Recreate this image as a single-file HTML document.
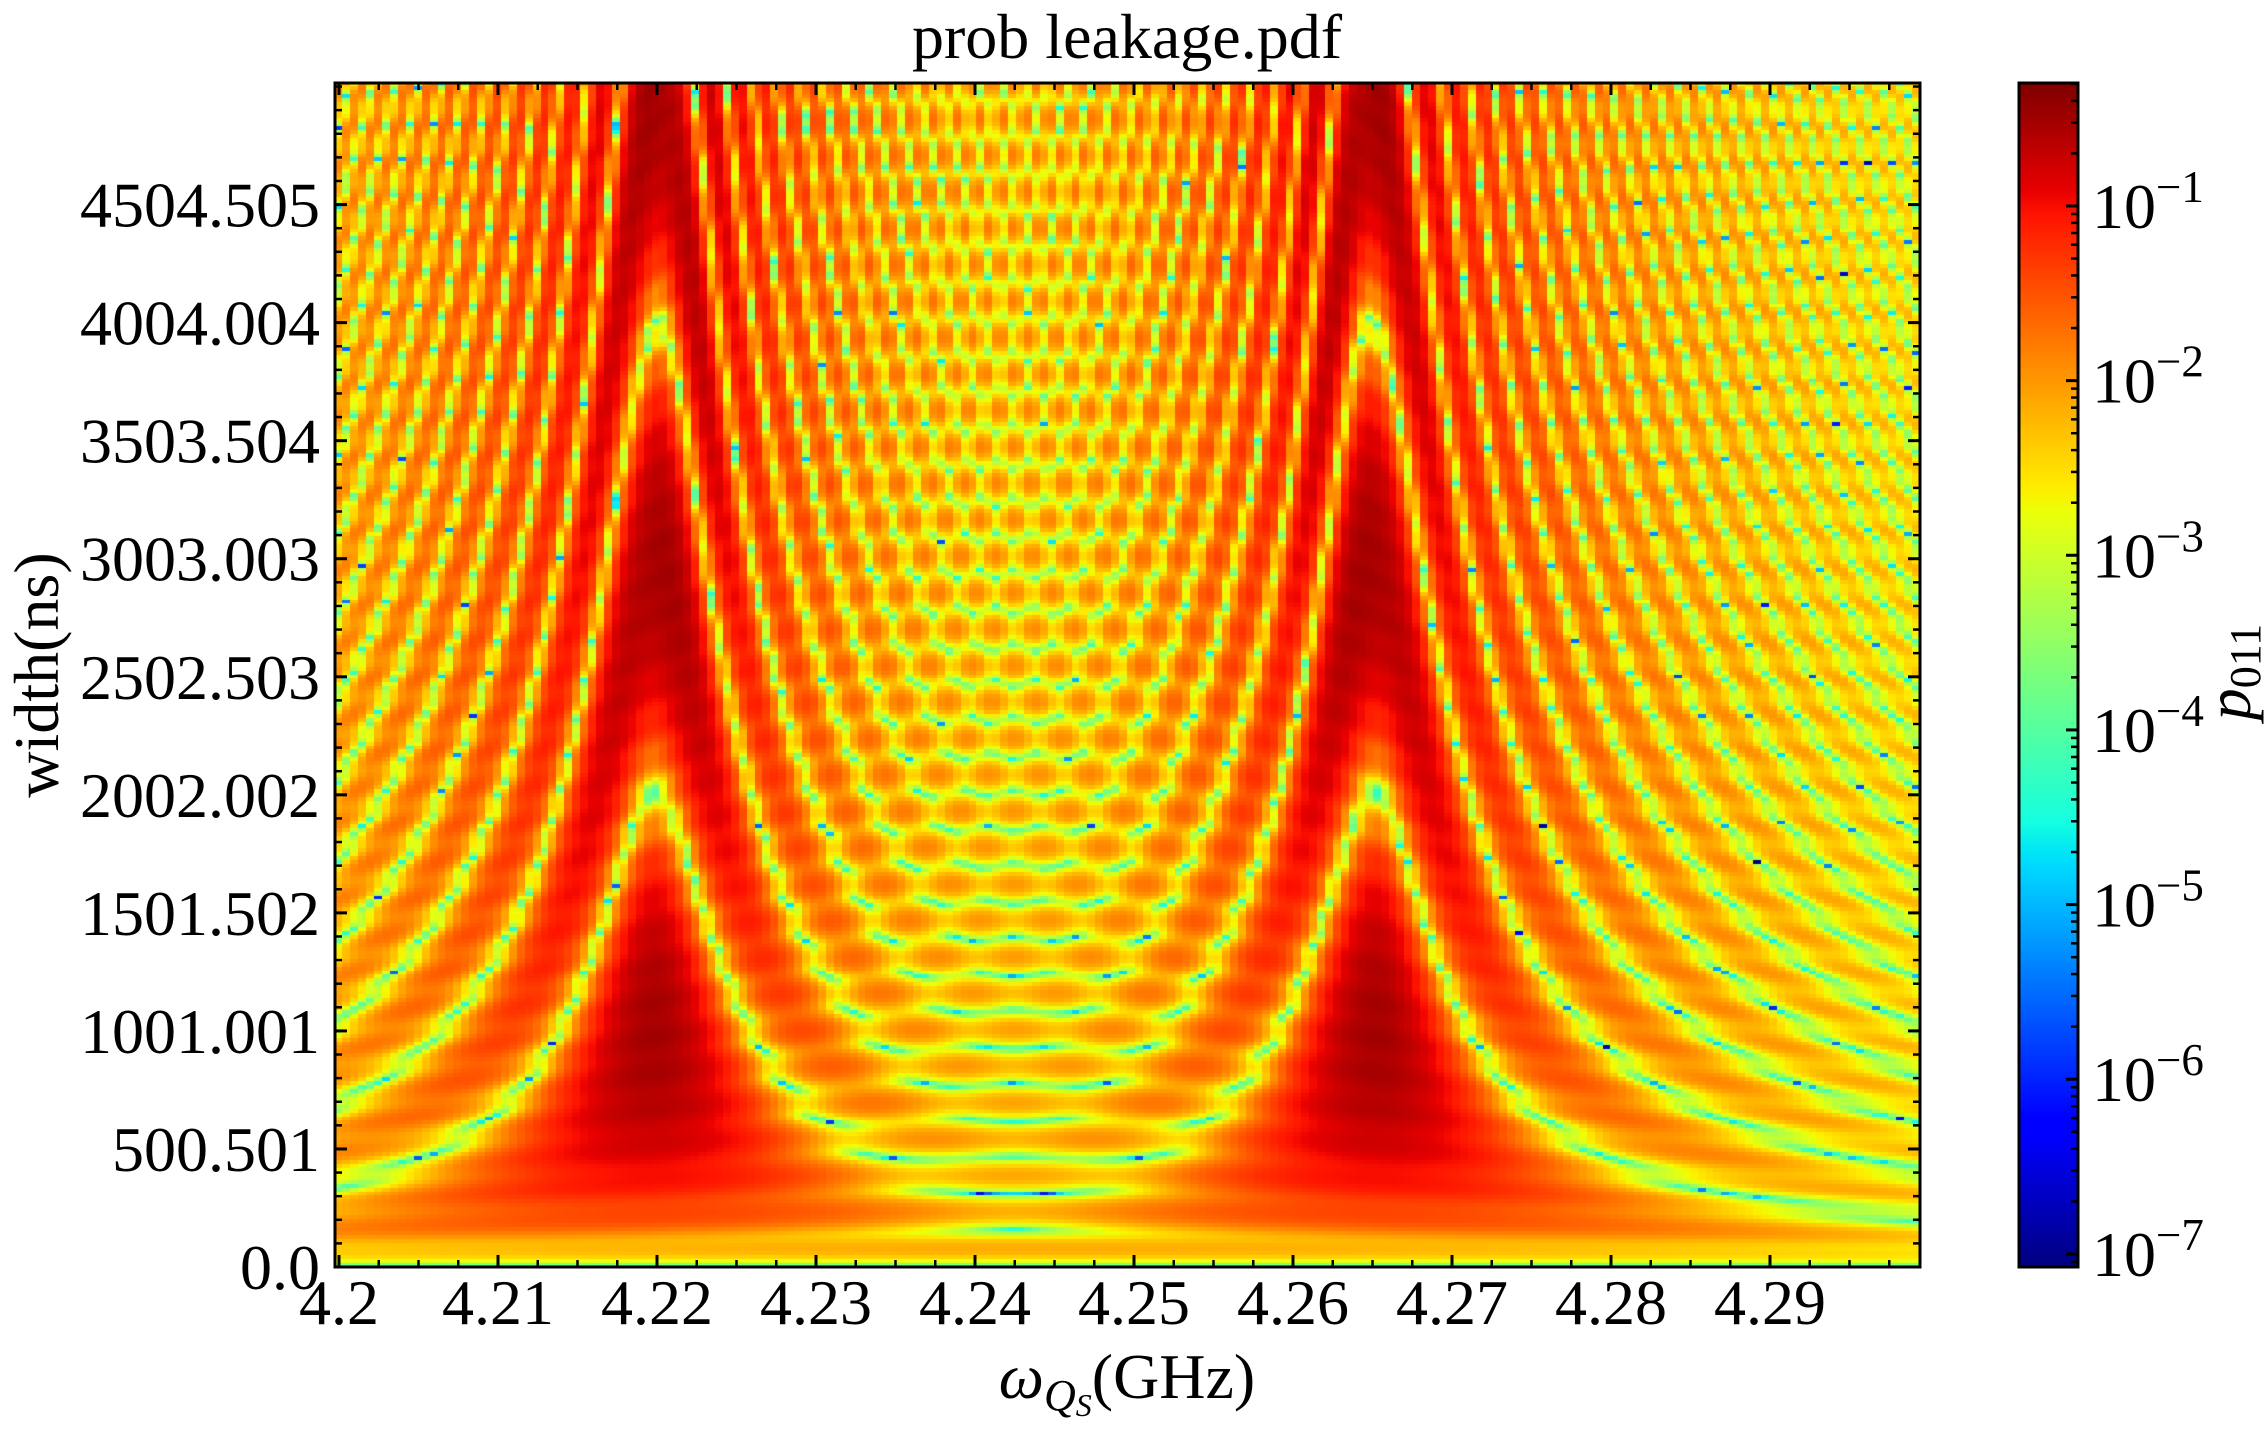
<!DOCTYPE html>
<html><head><meta charset="utf-8">
<style>
html,body{margin:0;padding:0;background:#fff;}
#wrap{position:relative;width:2266px;height:1430px;overflow:hidden;font-family:"Liberation Serif",serif;}
canvas{position:absolute;}
svg{position:absolute;left:0;top:0;}
</style></head>
<body>
<div id="wrap">
<canvas id="heat" width="1585" height="1184" style="left:335px;top:83px;width:1585px;height:1184px"></canvas>
<canvas id="cbar" width="59" height="1184" style="left:2019px;top:83px;width:59px;height:1184px"></canvas>
<svg id="ov" width="2266" height="1430"></svg>
</div>
<script>
// ---- data / parameters ----
const resonanceCenters = [4.22, 4.265];      // GHz
const rabiFreqs = [0.0005, 0.0005];           // GHz (effective)
const detuningScale = [0.143, 0.143];         // lever arm
const peakScale = [0.3];
const xTicks = [4.2, 4.21, 4.22, 4.23, 4.24, 4.25, 4.26, 4.27, 4.28, 4.29];
const xTickLabels = ["4.2","4.21","4.22","4.23","4.24","4.25","4.26","4.27","4.28","4.29"];
const yTicks = [0, 500.501, 1001.001, 1501.502, 2002.002, 2502.503, 3003.003, 3503.504, 4004.004, 4504.505];
const yTickLabels = ["0.0","500.501","1001.001","1501.502","2002.002","2502.503","3003.003","3503.504","4004.004","4504.505"];
const cbarExponents = [-1,-2,-3,-4,-5,-6,-7];

// ---- axes ----
const PX0=335, PX1=1920, PY0=83, PY1=1267;
const xMin = 4.2 - 4/15900, xMax = 4.2 + (1920-339)/15900;
const yMin = 0, yMax = 5020;
const xs = v => 339 + (v-4.2)*15900;
const ys = v => PY1 - (v-yMin)/(yMax-yMin)*(PY1-PY0);
const LMIN = -7.075, LMAX = -0.296;
const cs = l => PY1 - (l-LMIN)/(LMAX-LMIN)*(PY1-PY0);

function interp(pts,x){for(let i=1;i<pts.length;i++){if(x<=pts[i][0]){const a=pts[i-1],b=pts[i];return a[1]+(b[1]-a[1])*(x-a[0])/(b[0]-a[0]);}}return pts[pts.length-1][1];}
const R=[[0,0],[0.35,0],[0.66,1],[0.89,1],[1,0.5]];
const G=[[0,0],[0.125,0],[0.375,1],[0.64,1],[0.91,0],[1,0]];
const B=[[0,0.5],[0.11,1],[0.34,1],[0.65,0],[1,0]];
function jet(t){t=Math.max(0,Math.min(1,t));return [interp(R,t)*255|0,interp(G,t)*255|0,interp(B,t)*255|0];}

function prob(f,t){
  let re=0,im=0;
  for(let k=0;k<resonanceCenters.length;k++){
    const d=detuningScale[k]*(f-resonanceCenters[k]);
    const W=rabiFreqs[k];
    const Wp=Math.sqrt(W*W+d*d);
    const a=(W/Wp)*Math.sin(Math.PI*Wp*t);
    const ph=Math.PI*d*t;
    re+=a*Math.sin(ph); im+=-a*Math.cos(ph);
  }
  return peakScale[0]*(re*re+im*im);
}

// heatmap
(function(){
  const c=document.getElementById('heat'),ctx=c.getContext('2d');
  const NX=200, NY=300;
  const cw=c.width/NX, ch=c.height/NY;
  for(let i=0;i<NX;i++){
    const f=xMin+(i+0.5)/NX*(xMax-xMin);
    for(let j=0;j<NY;j++){
      const t=yMax-(j+0.5)/NY*(yMax-yMin);
      let p=prob(f,t); if(p<1e-9)p=1e-9;
      const l=Math.log10(p);
      const col=jet((l-LMIN)/(LMAX-LMIN));
      ctx.fillStyle=`rgb(${col[0]},${col[1]},${col[2]})`;
      ctx.fillRect(Math.floor(i*cw),Math.floor(j*ch),Math.ceil(cw)+1,Math.ceil(ch)+1);
    }
  }
  const cb=document.getElementById('cbar'),cx=cb.getContext('2d');
  for(let y=0;y<cb.height;y++){const col=jet(1-y/(cb.height-1));cx.fillStyle=`rgb(${col[0]},${col[1]},${col[2]})`;cx.fillRect(0,y,cb.width,1);}
})();

// overlay
(function(){
  const svg=document.getElementById('ov'),NS='http://www.w3.org/2000/svg';
  function el(tag,attrs,txt){const e=document.createElementNS(NS,tag);for(const k in attrs)e.setAttribute(k,attrs[k]);if(txt!==undefined)e.textContent=txt;svg.appendChild(e);return e;}
  function line(x1,y1,x2,y2,w,name){const l=el('line',{x1,y1,x2,y2,stroke:'#000','stroke-width':w});
    
    }
  const FS=64;
  xTicks.forEach((v,i)=>{const x=xs(v);line(x,PY1,x,PY1-12,3,'x-tick');line(x,PY0,x,PY0+12,3,'x-tick-top');
    const t=el('text',{x:x,y:1324,'font-size':FS,'text-anchor':'middle','font-family':'Liberation Serif, serif'},xTickLabels[i]);
    
    });
  for(let v=4.2;v<4.2995;v+=0.0025){const x=xs(v);if(x<PX0||x>PX1)continue;line(x,PY1,x,PY1-7,2.5,'x-minor-tick');line(x,PY0,x,PY0+7,2.5,'x-minor-tick-top');}
  yTicks.forEach((v,i)=>{const y=ys(v);line(PX0,y,PX0+12,y,3,'y-tick');line(PX1,y,PX1-12,y,3,'y-tick-right');
    const t=el('text',{x:320,y:y+22,'font-size':FS,'text-anchor':'end','font-family':'Liberation Serif, serif'},yTickLabels[i]);
    
    });
  for(let k=0;k<60;k++){const v=k*100.1;const y=ys(v);if(y<PY0)break;line(PX0,y,PX0+7,y,2.5,'y-minor-tick');line(PX1,y,PX1-7,y,2.5,'y-minor-tick-right');}
  const fr=el('rect',{x:PX0,y:PY0,width:PX1-PX0,height:PY1-PY0,fill:'none',stroke:'#000','stroke-width':3});
  
  
  const CX0=2019,CX1=2078;
  cbarExponents.forEach(e=>{const y=cs(e);line(CX1,y,CX1-12,y,3,'colorbar-tick');
    const t=el('text',{x:2092,y:y+22,'font-size':FS,'font-family':'Liberation Serif, serif'});
    
    
    const a=document.createElementNS(NS,'tspan');a.textContent='10';t.appendChild(a);
    const b=document.createElementNS(NS,'tspan');b.setAttribute('dy','-26');b.setAttribute('font-size','45');b.textContent='\u2212'+(-e);t.appendChild(b);
  });
  for(let e=-8;e<=0;e++){for(let m=2;m<=9;m++){const l=e+Math.log10(m);if(l<LMIN||l>LMAX)continue;line(CX1,cs(l),CX1-7,cs(l),2.5,'colorbar-minor-tick');}}
  const cf=el('rect',{x:CX0,y:PY0,width:CX1-CX0,height:PY1-PY0,fill:'none',stroke:'#000','stroke-width':3});
  
  
  const ti=el('text',{x:1127,y:58,'font-size':64,'text-anchor':'middle','font-family':'Liberation Serif, serif'},'prob leakage.pdf');
  
  
  const xl=el('text',{x:1127,y:1398,'font-size':64,'text-anchor':'middle','font-family':'Liberation Serif, serif'});
  
  
  xl.innerHTML='<tspan font-style="italic">ω</tspan><tspan font-style="italic" font-size="44" dy="12">Q</tspan><tspan font-style="italic" font-size="32" dy="6">S</tspan><tspan dy="-18">(GHz)</tspan>';
  const yl=el('text',{x:0,y:0,'font-size':64,'text-anchor':'middle','font-family':'Liberation Serif, serif',transform:'translate(58,675) rotate(-90)'},'width(ns)');
  
  
  const cl=el('text',{x:0,y:0,'font-size':64,'text-anchor':'middle','font-family':'Liberation Serif, serif',transform:'translate(2250,672) rotate(-90)'});
  
  
  cl.innerHTML='<tspan font-style="italic">p</tspan><tspan font-size="44" dy="10">011</tspan>';
})();
</script>
</body></html>
